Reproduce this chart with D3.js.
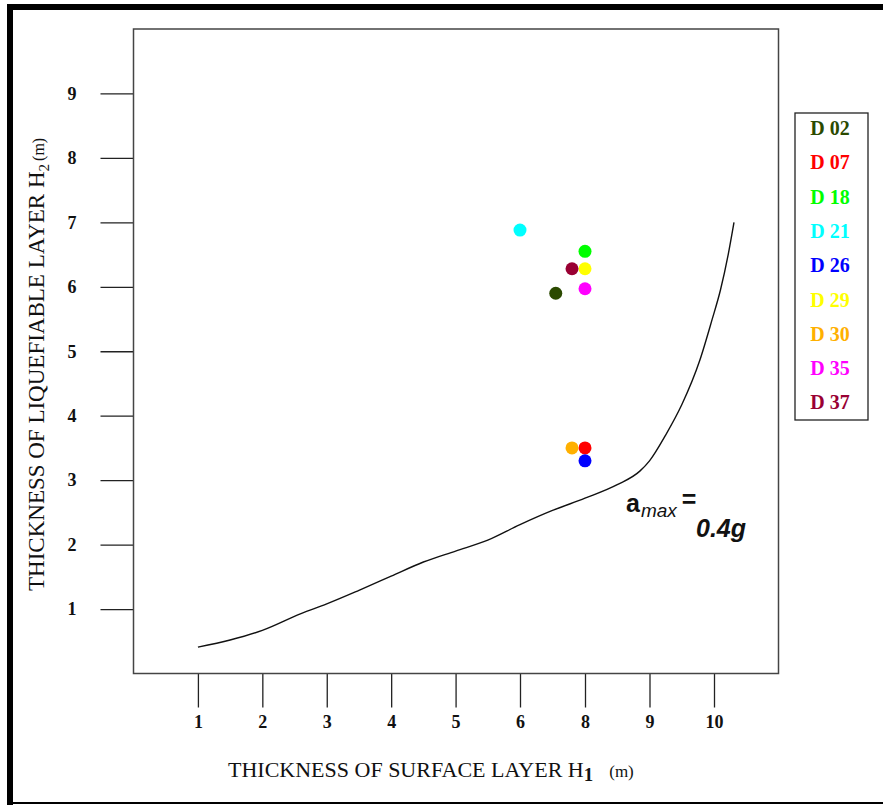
<!DOCTYPE html>
<html>
<head>
<meta charset="utf-8">
<script src="https://cdn.jsdelivr.net/npm/d3@7"></script>
<style>
  body { margin: 0; background: #fff; }
  text { font-family: "Liberation Serif", "Times New Roman", serif; }
</style>
</head>
<body>
<div id="chart"></div>
<script>
// sites (legend order) and colours
const sites = ["D 02", "D 07", "D 18", "D 21", "D 26", "D 29", "D 30", "D 35", "D 37"];
const colors = ["#2b4a00", "#ff0000", "#00ff00", "#00ffff", "#0000ff", "#ffff00", "#ffb000", "#ff00ff", "#990033"];
// H1 and H2 of each site
const h1 = [7.1, 8, 8, 6, 8, 8, 7.6, 8, 7.6];
const h2 = [5.9, 3.5, 6.55, 6.88, 3.3, 6.28, 3.5, 5.97, 6.28];

// boundary curve a_max = 0.4g
const curveH1 = [1.0, 1.5, 2.0, 2.6, 3.0, 3.5, 4.0, 4.5, 5.0, 5.5, 6.0, 7.0, 8.0, 8.5, 8.85, 9.0, 9.25, 9.5, 9.78, 9.97, 10.1, 10.22, 10.31];
const curveH2 = [0.41, 0.52, 0.67, 0.93, 1.08, 1.29, 1.51, 1.73, 1.9, 2.07, 2.31, 2.53, 2.72, 2.93, 3.14, 3.3, 3.7, 4.17, 4.86, 5.49, 5.95, 6.5, 7.0];

const xTicks = [1, 2, 3, 4, 5, 6, 8, 9, 10];
const yTicks = [1, 2, 3, 4, 5, 6, 7, 8, 9];

const W = 883, H = 805;
const plot = {left: 133.5, top: 29, right: 778.5, bottom: 673.5};

const svg = d3.select("#chart").append("svg")
  .attr("width", W)
  .attr("height", H);

// outer frame
svg.append("rect").attr("x", 7).attr("y", 4).attr("width", W - 7).attr("height", 6).attr("fill", "#000");
svg.append("rect").attr("x", 7).attr("y", 4).attr("width", 6).attr("height", H - 4).attr("fill", "#000");
svg.append("rect").attr("x", 7).attr("y", 802).attr("width", W - 7).attr("height", 2).attr("fill", "#000");

// the original axis skips 7, so the scale is piecewise
const x = d3.scaleLinear()
  .domain([0, 6, 8, 11])
  .range([plot.left, 520, 585, plot.right]);

const y = d3.scaleLinear()
  .domain([0, 10])
  .range([plot.bottom, plot.top]);

const xAxis = d3.axisBottom(x)
  .tickValues(xTicks)
  .tickSizeInner(34)
  .tickSizeOuter(0)
  .tickPadding(8)
  .tickFormat(d3.format("d"));

const yAxis = d3.axisLeft(y)
  .tickValues(yTicks)
  .tickSizeInner(33)
  .tickSizeOuter(0)
  .tickPadding(24)
  .tickFormat(d3.format("d"));

const gx = svg.append("g")
  .attr("transform", `translate(0,${plot.bottom})`)
  .call(xAxis);
const gy = svg.append("g")
  .attr("transform", `translate(${plot.left},0)`)
  .call(yAxis);

[gx, gy].forEach(g => {
  g.select(".domain").remove();
  g.selectAll(".tick line").attr("stroke", "#222").attr("stroke-width", 1.3);
  g.selectAll(".tick text")
    .attr("fill", "#111")
    .style("font-family", "'Liberation Serif', serif")
    .style("font-size", "18px")
    .style("font-weight", "bold");
});

// plot box
svg.append("rect")
  .attr("x", plot.left).attr("y", plot.top)
  .attr("width", plot.right - plot.left)
  .attr("height", plot.bottom - plot.top)
  .attr("fill", "none")
  .attr("stroke", "#444")
  .attr("stroke-width", 1.5);

// curve
const curveData = curveH1.map((d, i) => [d, curveH2[i]]);
svg.append("path")
  .datum(curveData)
  .attr("fill", "none")
  .attr("stroke", "#111")
  .attr("stroke-width", 1.4)
  .attr("d", d3.line().x(d => x(d[0])).y(d => y(d[1])).curve(d3.curveMonotoneX));

// points
svg.append("g")
  .selectAll("circle")
  .data(sites)
  .enter().append("circle")
    .attr("cx", (d, i) => x(h1[i]))
    .attr("cy", (d, i) => y(h2[i]))
    .attr("r", 6.5)
    .attr("fill", (d, i) => colors[i]);

// annotation
const ann = svg.append("text")
  .attr("x", 626).attr("y", 512)
  .style("font-family", "'Liberation Sans', Arial, sans-serif")
  .style("font-weight", "bold")
  .attr("fill", "#111");
ann.append("tspan").style("font-size", "25px").text("a");
ann.append("tspan").attr("dy", 5).attr("dx", 1).style("font-size", "19px")
  .style("font-style", "italic").style("font-weight", "normal").text("max");
ann.append("tspan").attr("dy", -9).attr("dx", 5).style("font-size", "25px").text("=");
svg.append("text")
  .attr("x", 696).attr("y", 537)
  .style("font-family", "'Liberation Sans', Arial, sans-serif")
  .style("font-style", "italic")
  .style("font-weight", "bold")
  .style("font-size", "25px")
  .attr("fill", "#111")
  .text("0.4g");

// axis titles
const xt = svg.append("text")
  .attr("x", 228).attr("y", 777)
  .style("font-size", "22px")
  .attr("fill", "#111");
xt.append("tspan").text("THICKNESS OF SURFACE LAYER H");
xt.append("tspan").attr("dy", 4).style("font-size", "19px").style("font-weight", "bold").text("1");
xt.append("tspan").attr("dy", -4).attr("dx", 16).style("font-size", "17px").text("(m)");

const yt = svg.append("text")
  .attr("transform", "translate(44,591) rotate(-90)")
  .style("font-size", "23px")
  .attr("fill", "#111");
yt.append("tspan").text("THICKNESS OF LIQUEFIABLE LAYER H");
yt.append("tspan").attr("dy", 5).style("font-size", "15px").text("2");
yt.append("tspan").attr("dy", -5).attr("dx", 3).style("font-size", "16px").text("(m)");

// legend
const legend = svg.append("g").attr("class", "legend");
legend.append("rect")
  .attr("x", 795).attr("y", 113)
  .attr("width", 73).attr("height", 307)
  .attr("fill", "#fff")
  .attr("stroke", "#222")
  .attr("stroke-width", 1.3);
legend.selectAll("text.item")
  .data(sites)
  .enter().append("text")
    .attr("class", "item")
    .attr("x", 830)
    .attr("y", (d, i) => 135 + i * 34.3)
    .attr("text-anchor", "middle")
    .style("font-size", "20px")
    .style("font-weight", "bold")
    .attr("fill", (d, i) => colors[i])
    .text(d => d);
</script>
</body>
</html>
